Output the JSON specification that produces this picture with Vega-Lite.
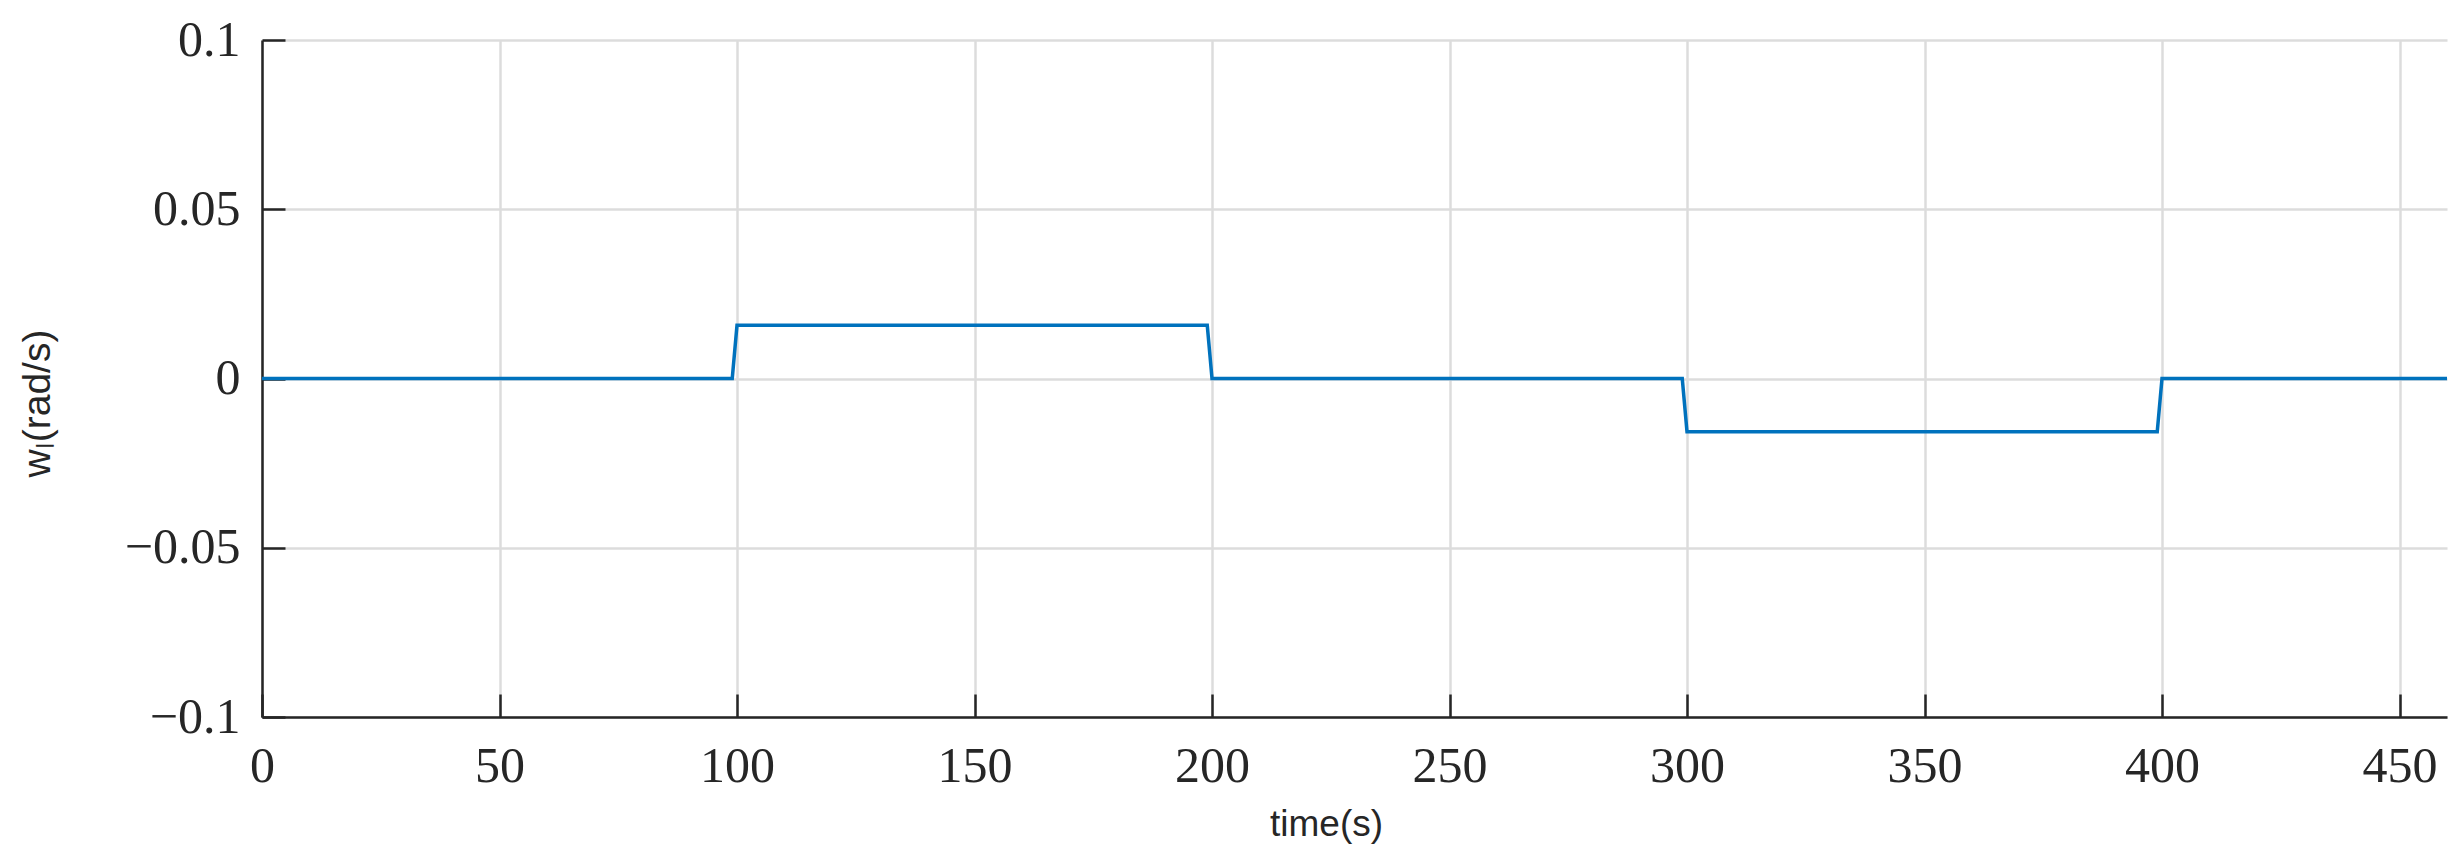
{
  "$schema": "https://vega.github.io/schema/vega-lite/v6.json",
  "autosize": {"type": "none"},
  "padding": {"left": 262, "top": 40, "right": 13, "bottom": 144},
  "width": 2185,
  "height": 677,
  "background": "white",
  "config": {
    "view": {"stroke": null},
    "axis": {
      "domainColor": "#262626",
      "domainWidth": 2.5,
      "tickColor": "#262626",
      "tickWidth": 2.5,
      "tickSize": -23,
      "gridColor": "#dcdcdc",
      "gridWidth": 2.5,
      "labelFont": "Liberation Serif",
      "labelFontSize": 50,
      "labelColor": "#262626",
      "titleFont": "Liberation Sans",
      "titleFontSize": 37,
      "titleFontWeight": "normal",
      "titleColor": "#262626"
    }
  },
  "data": {
    "values": [
      {"t": 0, "w": 0},
      {"t": 99, "w": 0},
      {"t": 100, "w": 0.0157},
      {"t": 199, "w": 0.0157},
      {"t": 200, "w": 0},
      {"t": 299, "w": 0},
      {"t": 300, "w": -0.0157},
      {"t": 399, "w": -0.0157},
      {"t": 400, "w": 0},
      {"t": 460, "w": 0}
    ]
  },
  "mark": {"type": "line", "color": "#0072BD", "strokeWidth": 3.5, "clip": true},
  "encoding": {
    "x": {
      "field": "t",
      "type": "quantitative",
      "scale": {"domain": [0, 460], "nice": false, "zero": false},
      "axis": {
        "title": "time(s)",
        "values": [0, 50, 100, 150, 200, 250, 300, 350, 400, 450],
        "format": "d",
        "labelPadding": 47,
        "labelFlush": false,
        "titleX": 1064,
        "titleY": 118,
        "titleBaseline": "alphabetic",
        "titleAnchor": null
      }
    },
    "y": {
      "field": "w",
      "type": "quantitative",
      "scale": {"domain": [-0.1, 0.1], "nice": false},
      "axis": {
        "title": "wₗ(rad/s)",
        "values": [-0.1, -0.05, 0, 0.05, 0.1],
        "format": "~g",
        "labelPadding": 45,
        "labelFlush": false,
        "titleX": -205,
        "titleY": 363,
        "titleAngle": -90,
        "titleFontSize": 39,
        "titleBaseline": "bottom",
        "titleAlign": "center"
      }
    }
  }
}
